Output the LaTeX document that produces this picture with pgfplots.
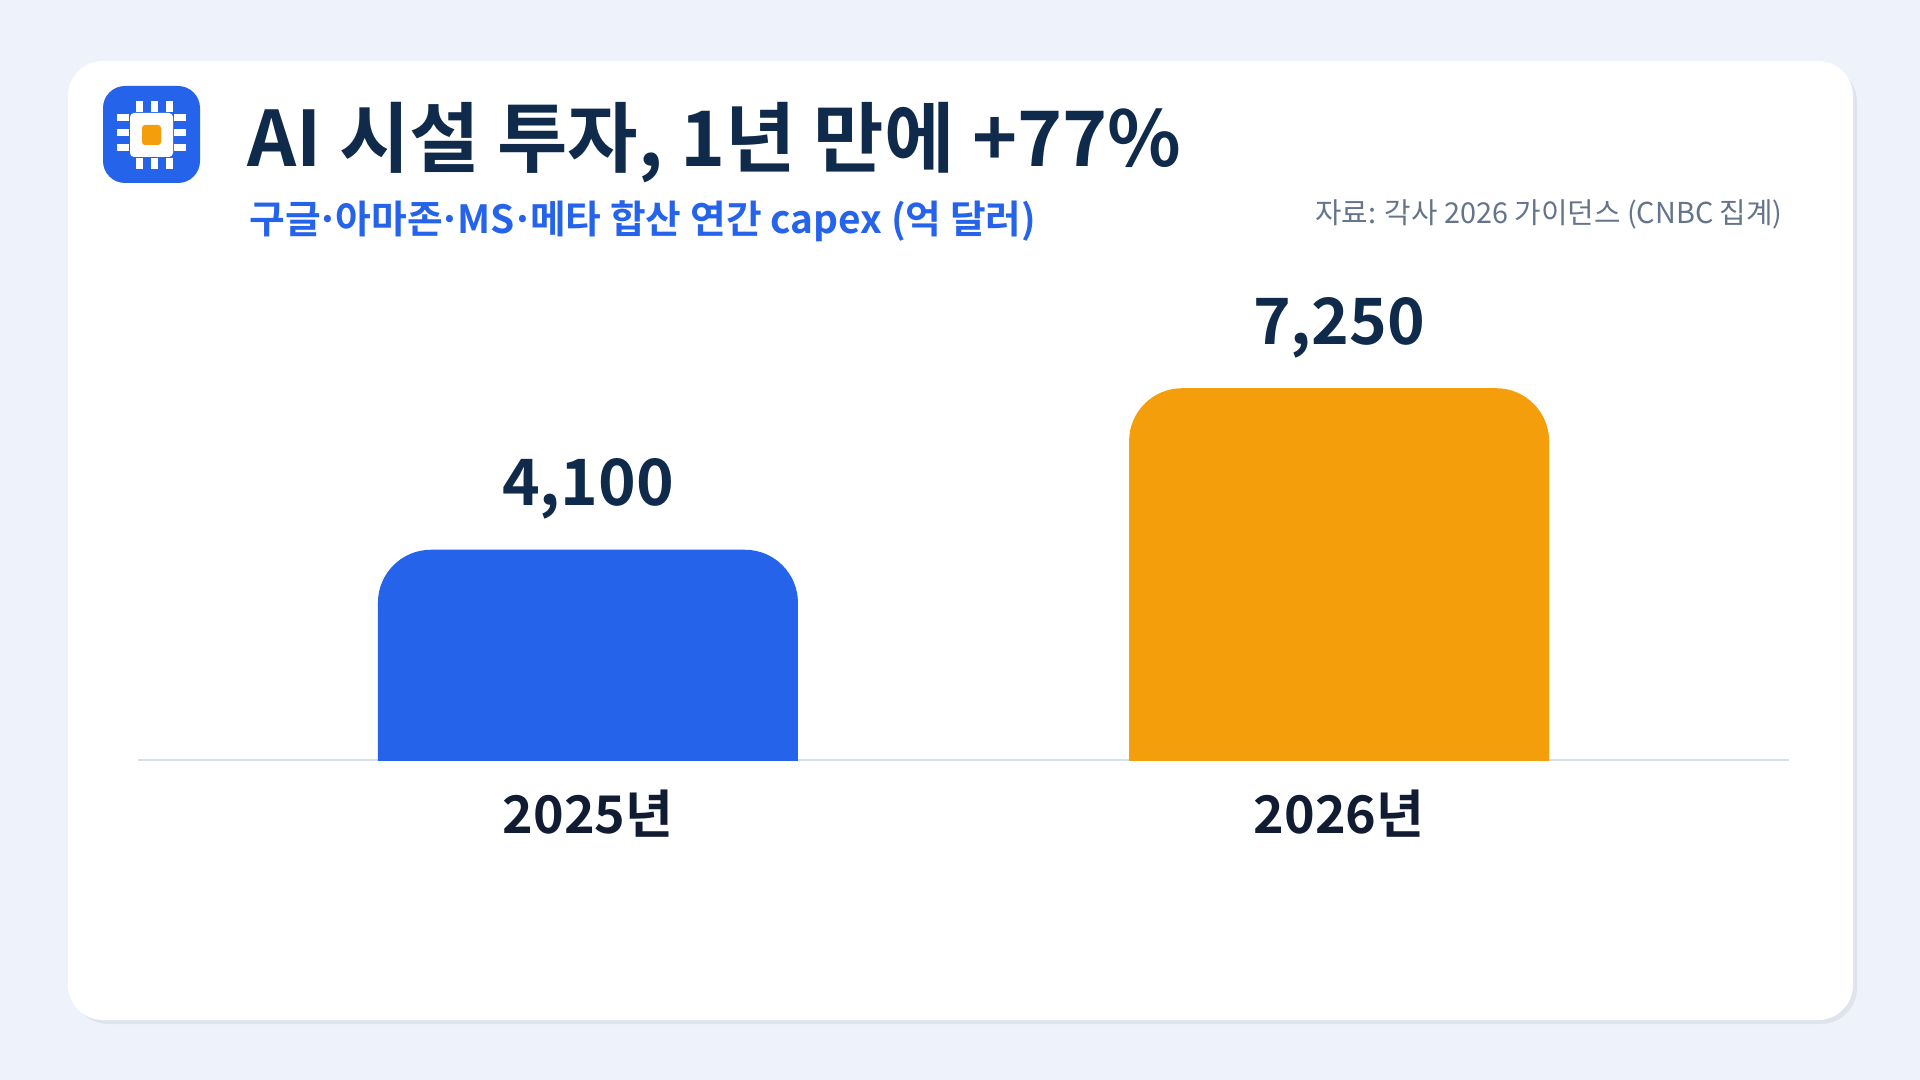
\documentclass[border=0pt]{standalone}
\usepackage{pgfplots}
\pgfplotsset{compat=1.18}
\usepackage{fontspec}
\setmainfont[BoldFont=Noto Sans CJK KR Bold]{Noto Sans CJK KR}
\definecolor{bgc}{HTML}{EEF2FA}
\definecolor{shadowc}{HTML}{DFE4EC}
\definecolor{blueb}{HTML}{2563EB}
\definecolor{amber}{HTML}{F59E0B}
\definecolor{navy}{HTML}{0F2A4A}
\definecolor{ink}{HTML}{111C33}
\definecolor{grayt}{HTML}{64748B}
\definecolor{axisc}{HTML}{D5E0EC}
\newcommand{\kdot}{\hspace{-2pt}·\hspace{-2pt}}
\begin{document}
\begin{tikzpicture}[x=0.5pt,y=-0.5pt]
\path[use as bounding box] (0,0) rectangle (1920,1080);
\fill[bgc] (0,0) rectangle (1920,1080);
\fill[shadowc,rounded corners=18pt] (72,66) rectangle (1857,1024);
\fill[white,rounded corners=17.5pt] (68,61) rectangle (1853,1020);
% icon
\fill[blueb,rounded corners=11pt] (103,86) rectangle (200,183);
\fill[white,rounded corners=2pt] (130,113) rectangle (173,157);
\fill[amber,rounded corners=1.5pt] (142,125) rectangle (161,145);
\foreach \a in {136,151,166}{
  \fill[white] (\a,101) rectangle (\a+6.5,112);
  \fill[white] (\a,158) rectangle (\a+6.5,169);
}
\foreach \b in {114,129,144}{
  \fill[white] (117,\b) rectangle (129,\b+7.5);
  \fill[white] (174,\b) rectangle (186,\b+7.5);
}
% texts
\node[anchor=west,inner sep=0pt,text=navy,font=\fontsize{38.3}{38.3}\selectfont\bfseries] at (247,143) {AI 시설 투자, 1년 만에 +77\%};
\node[anchor=west,inner sep=0pt,text=blueb,font=\fontsize{19.4}{19.4}\selectfont\bfseries] at (249,221.5) {구글\kdot 아마존\kdot MS\kdot 메타 합산 연간 capex (억 달러)};
\node[anchor=east,inner sep=0pt,text=grayt,font=\fontsize{14.4}{14.4}\selectfont] at (1783,214) {자료: 각사 2026 가이던스 (CNBC 집계)};
\begin{axis}[
  at={(69pt,-380pt)},anchor=south west,
  scale only axis,width=825.5pt,height=250pt,
  xmin=-0.599,xmax=1.599,ymin=0,ymax=9750,
  axis x line=bottom,axis y line=none,
  x axis line style={draw=axisc,line width=0.75pt,-},
  ybar,bar shift=0pt,bar width=210pt,
  xtick={0,1},xticklabels={2025년,2026년},
  major tick length=0pt,
  tick label style={text=ink,font=\fontsize{26}{26}\selectfont\bfseries},
  xticklabel style={yshift=-11.5pt},
  /pgf/number format/1000 sep={,},
  /pgf/number format/assume math mode=true,
  nodes near coords,
  nodes near coords style={text=navy,font=\fontsize{32}{32}\selectfont\bfseries,yshift=11.5pt},
  every axis plot/.append style={/utils/exec={\def\pgfplotspointaxisorigin{\pgfplotspointaxisxy{0}{-2000}}}},
]
\addplot[fill=blueb,draw=none,rounded corners=26.5pt] coordinates {(0,4100)};
\addplot[fill=amber,draw=none,rounded corners=26.5pt] coordinates {(1,7250)};
\end{axis}
\end{tikzpicture}
\end{document}
